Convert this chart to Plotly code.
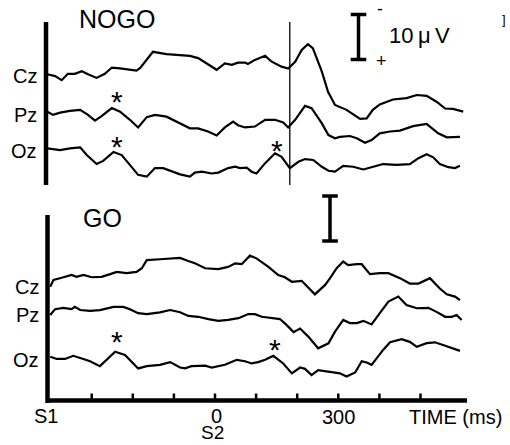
import plotly.graph_objects as go

# ---------------- data (time in ms, amplitude in µV, negative up) ----------------
nogo_cz_t = [-408,-389,-373,-358,-341,-324,-309,-288,-268,-251,-231,-212,-191,-182,-151,-118,-85,-61,-41,4,24,41,56,73,80,97,122,138,162,178,195,211,226,238,260,275,292,320,353,369,384,401,433,466,491,515,539,560,579,604]
nogo_cz_v = [0,0.4,1.3,-0.1,-0.1,-0.7,0,0.8,-0.1,-1.5,-1.3,-1.0,-0.8,-1.4,-5.0,-4.5,-4.3,-4.1,-3.6,-1.0,-2.4,-2.1,-2.6,-2.6,-2.3,-3.2,-4.1,-2.8,-1.7,-1.3,-2.8,-5.4,-6.7,-5.8,-0.6,3.9,6.8,7.9,9.9,9.8,7.9,6.7,5.6,5.3,4.6,4.8,6.1,7.6,7.7,8.3]

nogo_pz_t = [-408,-394,-377,-353,-328,-309,-292,-276,-251,-231,-207,-187,-166,-146,-118,-93,-61,-41,-17,4,24,44,56,73,97,122,146,166,178,195,219,235,260,276,292,304,328,345,365,381,401,426,450,482,515,523,543,564,596]
nogo_pz_v = [0,0.7,0.2,-0.2,-0.4,0.7,2.0,1.0,-0.8,0,1.8,3.5,1.2,0.7,1.1,2.2,3.7,3.7,4.4,5.3,3.5,2.2,3.0,3.5,3.3,1.8,1.8,2.4,3.5,1.8,-1.3,-0.8,2.6,5.2,5.9,5.6,5.4,5.9,6.9,6.3,4.8,4.4,4.2,3.2,2.7,3.3,4.8,5.7,5.6]

nogo_oz_t = [-408,-377,-353,-328,-312,-288,-272,-247,-227,-207,-187,-166,-146,-126,-101,-85,-61,-49,-32,-8,8,32,49,61,77,89,101,122,146,162,182,203,219,239,260,276,292,312,336,361,385,409,442,474,495,515,531,547,568,584,596]
nogo_oz_v = [0,0.4,0,-0.2,1.5,3.5,2.8,0.8,1.5,3.7,5.9,6.3,4.4,4.4,5.2,5.8,6.3,5.4,5.2,5.6,5.4,4.4,4.1,4.4,4.3,5.2,5.6,3.3,1.1,1.9,4.4,3.0,2.4,2.6,4.1,5.0,5.2,3.9,4.1,4.7,4.1,3.5,3.7,3.5,2.2,1.3,2.0,3.5,4.2,4.4,3.9]

go_cz_t = [-401,-393,-373,-349,-337,-320,-300,-276,-255,-239,-215,-191,-178,-166,-134,-101,-85,-65,-49,-24,8,32,49,65,85,101,130,154,170,187,211,243,268,280,296,312,324,345,357,377,401,422,450,474,495,523,547,564,584,596]
go_cz_v = [0,-1.5,-2.0,-2.6,-2.2,-2.6,-2.1,-2.2,-2.8,-3.3,-3.0,-3.3,-4.1,-5.9,-6.1,-6.2,-6.4,-5.7,-5.2,-4.1,-3.9,-4.4,-5.2,-5.0,-6.9,-6.3,-4.4,-2.6,-2.1,-1.1,-1.3,1.7,-0.4,-1.9,-4.1,-5.6,-4.8,-5.0,-5.0,-2.8,-3.0,-3.0,-1.9,-0.7,-0.7,-1.9,0.4,1.7,2.2,3.0]

go_pz_t = [-401,-389,-369,-349,-341,-328,-304,-280,-247,-223,-207,-187,-166,-134,-109,-85,-65,-41,-16,8,32,57,81,97,114,138,158,174,191,207,227,251,276,292,312,328,345,361,381,401,422,446,466,491,519,539,560,576,588,600]
go_pz_v = [0,-1.3,-1.6,-1.3,-1.8,-1.1,-0.9,-1.1,-1.8,-1.8,-1.3,-0.4,-0.2,-0.6,-1.1,-0.6,0.2,0.4,0.9,1.3,1.1,0.7,-0.2,-0.2,0.4,0.6,0.9,2.2,3.8,3.0,4.8,7.4,6.3,3.7,1.1,1.8,1.8,1.3,2.1,-0.4,-3.0,-4.1,-2.2,-1.5,-1.6,-0.7,0.4,0.4,0,1.1]

go_oz_t = [-401,-385,-365,-345,-324,-304,-280,-268,-243,-219,-203,-187,-166,-134,-109,-85,-73,-57,-24,-8,24,53,73,89,105,122,142,166,187,207,219,235,251,272,292,304,320,341,357,369,381,393,409,426,454,474,491,515,535,555,576,596]
go_oz_v = [0,0.5,0.5,-0.2,0.4,1.0,2.1,1.1,-1.1,-0.4,1.1,2.6,2.1,1.8,1.2,2.4,2.6,2.1,2.0,2.4,1.8,0.7,1.0,1.5,1.2,0.7,-0.2,1.5,3.7,2.4,2.7,4.1,3.0,3.3,3.5,3.7,4.4,3.5,1.0,1.3,1.8,0.4,-1.5,-3.2,-3.9,-3.3,-2.2,-3.0,-3.2,-2.6,-1.9,-1.3]

tick_ms = [-300, -200, -100, 0, 100, 200, 300, 400, 500]
channel_names = ["Cz", "Pz", "Oz"]
# asterisks: (panel, channel, time in ms, height above channel baseline in µV)
stars = [("NOGO", "Pz", -239, 3.3), ("NOGO", "Oz", -239, 1.5), ("NOGO", "Oz", 150, 0.5),
         ("GO", "Oz", -239, 4.4), ("GO", "Oz", 146, 2.6)]

# ---------------- geometry ----------------
W, H = 510, 445
PX_PER_MS = 0.411
X0_PX = 215.0          # pixel of time 0
PX_PER_UV = 4.5        # 10 µV = 45 px


def px_t(px):
    return (px - X0_PX) / PX_PER_MS


def px_v(py):
    return py / PX_PER_UV


# baseline offsets (µV units from top)
offs = {"NOGO": {"Cz": px_v(74.3), "Pz": px_v(111.7), "Oz": px_v(148.3)},
        "GO": {"Cz": px_v(286.7), "Pz": px_v(315.0), "Oz": px_v(356.7)}}

fig = go.Figure()
series = [
    (nogo_cz_t, nogo_cz_v, offs["NOGO"]["Cz"]),
    (nogo_pz_t, nogo_pz_v, offs["NOGO"]["Pz"]),
    (nogo_oz_t, nogo_oz_v, offs["NOGO"]["Oz"]),
    (go_cz_t, go_cz_v, offs["GO"]["Cz"]),
    (go_pz_t, go_pz_v, offs["GO"]["Pz"]),
    (go_oz_t, go_oz_v, offs["GO"]["Oz"]),
]
for t, v, off in series:
    fig.add_trace(go.Scatter(x=t, y=[off + a for a in v], mode="lines",
                             line=dict(color="black", width=2.2), hoverinfo="skip",
                             showlegend=False))

shapes = []


def seg(x0, y0, x1, y1, w):
    shapes.append(dict(type="line", xref="x", yref="y", x0=x0, y0=y0, x1=x1, y1=y1,
                       line=dict(color="black", width=w)))


# vertical axis bars
seg(px_t(46), px_v(22), px_t(46), px_v(185), 4.5)
seg(px_t(47.5), px_v(215), px_t(47.5), px_v(403), 4.5)
# bottom time axis
y_axis = px_v(400.5)
seg(px_t(47.5), y_axis, px_t(467), y_axis, 4.5)
for tm in tick_ms:
    seg(tm, y_axis, tm, y_axis - 7 / PX_PER_UV, 2.5)
# S2 marker line in NOGO panel
seg(182, px_v(22), 182, px_v(185), 1.3)


# 10 µV calibration bars
def calib(tc, vtop, w_ms=19):
    seg(tc, vtop, tc, vtop + 10, 3.5)
    seg(tc - w_ms, vtop, tc + w_ms, vtop, 3.5)
    seg(tc - w_ms, vtop + 10, tc + w_ms, vtop + 10, 3.5)


calib(px_t(358.5), px_v(14.5))
calib(px_t(330), px_v(196))

fig.update_layout(shapes=shapes)

FONT = "Liberation Sans, Arial, Helvetica, sans-serif"
ann = []


def label(text, px, py, size, xanchor="center"):
    ann.append(dict(text=text, x=px / W, y=1 - py / H, xref="paper", yref="paper",
                    xanchor=xanchor, yanchor="middle", showarrow=False,
                    font=dict(family=FONT, size=size, color="black")))


label("NOGO", 116.5, 19, 25)
label("GO", 102.5, 218, 25)
for name, py in zip(channel_names, [75.5, 115, 151.5]):
    label(name, 39, py, 20, "right")
for name, py in zip(channel_names, [287, 315, 360]):
    label(name, 41, py, 20, "right")
label("S1", 46, 416, 20)
label("0", 216, 416, 20)
label("S2", 212, 432, 19)
label("300", 338, 417, 20)
label("TIME (ms)", 455, 417, 20)
label("-", 380, 9, 18)
label("+", 381, 61, 18)
label("10\u2009\u03bc\u2009V", 387, 36, 22, "left")
label("]", 504, 19, 13)

# asterisks marking peaks (glyph sits above the text-box centre)
for panel, ch, tm, h in stars:
    ann.append(dict(text="*", x=tm, y=offs[panel][ch] - h + 1.05, xref="x", yref="y",
                    showarrow=False, yanchor="middle",
                    font=dict(family=FONT, size=30, color="black")))

fig.update_layout(
    annotations=ann,
    width=W, height=H,
    margin=dict(l=0, r=0, t=0, b=0),
    paper_bgcolor="white", plot_bgcolor="white",
    xaxis=dict(range=[px_t(0), px_t(W)], visible=False, fixedrange=True),
    yaxis=dict(range=[px_v(H), 0], visible=False, fixedrange=True),
    showlegend=False,
)

fig.write_html("out.html", config={"displayModeBar": False},
               post_script="document.body.style.margin='0';document.body.style.overflow='hidden';")
